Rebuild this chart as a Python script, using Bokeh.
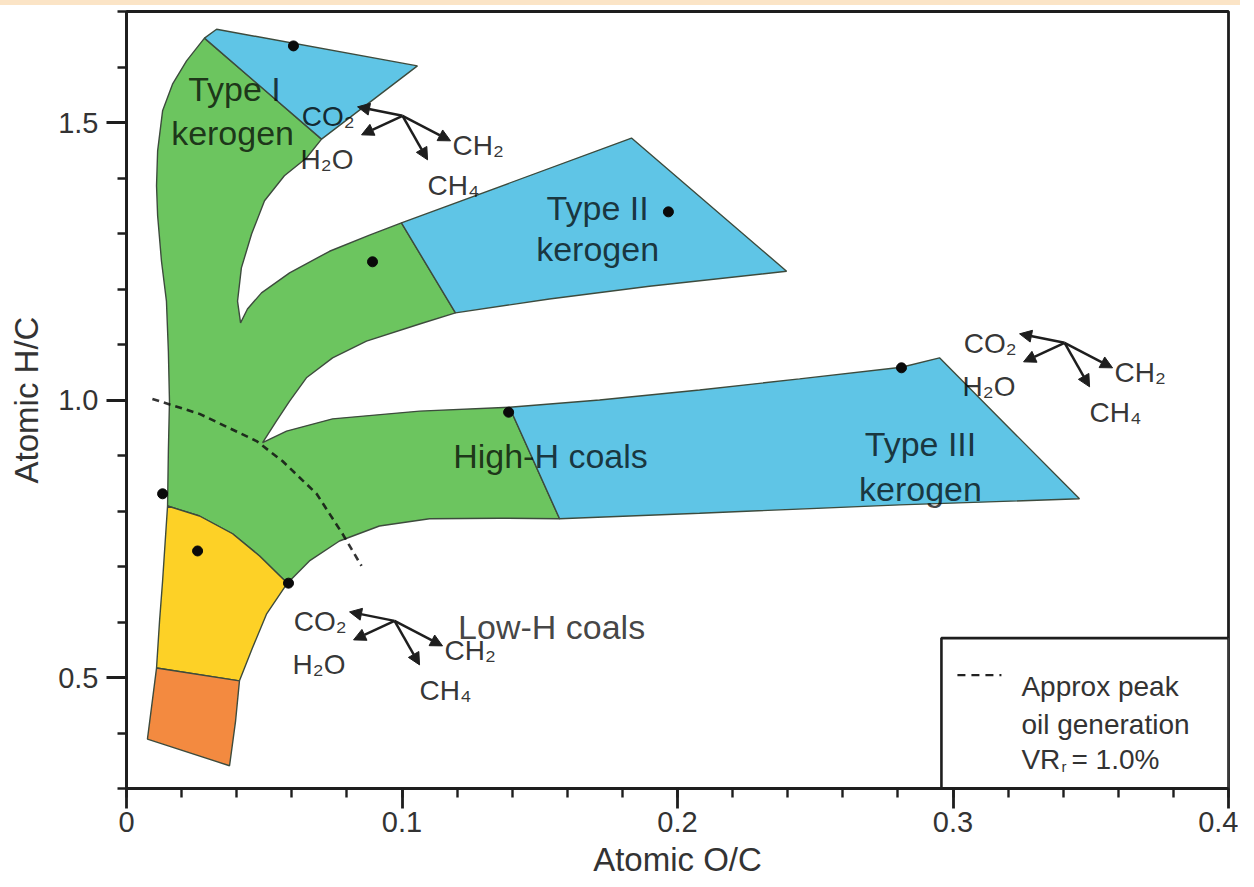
from bokeh.plotting import figure
from bokeh.layouts import column
from bokeh.models import (ColumnDataSource, FixedTicker, CustomJSTickFormatter,
                          Arrow, NormalHead, Range1d, Div)
from bokeh.core.properties import value
from bokeh.embed import file_html
from bokeh.resources import INLINE

# ---------------- data ----------------
GREEN_X = [0.0283, 0.0708, 0.0653, 0.0573, 0.0501, 0.0454, 0.0417, 0.0403, 0.0414,
           0.0439, 0.0490, 0.0592, 0.0737, 0.0882, 0.0998, 0.1194, 0.1064, 0.0871,
           0.0748, 0.0653, 0.0592, 0.0544, 0.0494, 0.0581, 0.0748, 0.1064, 0.1390,
           0.1572, 0.1354, 0.1100, 0.0918, 0.0773, 0.0664, 0.0584, 0.0483, 0.0385,
           0.0265, 0.0149, 0.0152, 0.0156, 0.0152, 0.0145, 0.0127, 0.0113, 0.0109,
           0.0113, 0.0131, 0.0167, 0.0218]
GREEN_Y = [1.652, 1.470, 1.436, 1.404, 1.359, 1.299, 1.238, 1.178, 1.139,
           1.164, 1.193, 1.229, 1.268, 1.297, 1.319, 1.157, 1.137, 1.106,
           1.076, 1.040, 0.998, 0.962, 0.923, 0.944, 0.966, 0.980, 0.987,
           0.786, 0.787, 0.786, 0.773, 0.746, 0.710, 0.670, 0.719, 0.759,
           0.791, 0.809, 0.908, 0.998, 1.088, 1.178, 1.250, 1.332, 1.386,
           1.449, 1.521, 1.569, 1.611]

TYPE1_X = [0.0283, 0.0327, 0.1056, 0.0708]
TYPE1_Y = [1.652, 1.668, 1.602, 1.470]

TYPE2_X = [0.0998, 0.1833, 0.2396, 0.1898, 0.1535, 0.1194]
TYPE2_Y = [1.319, 1.472, 1.232, 1.205, 1.182, 1.157]

TYPE3_X = [0.1390, 0.1717, 0.2080, 0.2443, 0.2813, 0.2951, 0.3459, 0.2806, 0.2080, 0.1572]
TYPE3_Y = [0.987, 1.000, 1.018, 1.038, 1.059, 1.076, 0.822, 0.811, 0.796, 0.786]

YELLOW_X = [0.0149, 0.0265, 0.0385, 0.0483, 0.0584, 0.0508, 0.0457, 0.0410, 0.0109, 0.0120, 0.0131]
YELLOW_Y = [0.809, 0.791, 0.759, 0.719, 0.670, 0.614, 0.553, 0.494, 0.517, 0.602, 0.674]

ORANGE_X = [0.0109, 0.0410, 0.0396, 0.0374, 0.0076]
ORANGE_Y = [0.517, 0.494, 0.422, 0.341, 0.389]

DOT_X = [0.0606, 0.0893, 0.1967, 0.1387, 0.2813, 0.0131, 0.0258, 0.0588]
DOT_Y = [1.638, 1.249, 1.339, 0.978, 1.058, 0.831, 0.728, 0.670]

PEAK_OIL_X = [0.0094, 0.0265, 0.0472, 0.0566, 0.0690, 0.0784, 0.0853]
PEAK_OIL_Y = [1.002, 0.975, 0.926, 0.890, 0.831, 0.759, 0.701]

REGION_LABELS = ["Type I", "kerogen", "Type II", "kerogen", "High-H coals",
                 "Type III", "kerogen", "Low-H coals"]
REGION_LABEL_X = [0.0392, 0.0385, 0.1710, 0.1710, 0.1539, 0.2882, 0.2882, 0.1543]
REGION_LABEL_Y = [1.560, 1.481, 1.346, 1.272, 0.899, 0.921, 0.840, 0.591]

# anchors of the three CO2/H2O/CH2/CH4 reaction diagrams
DIAGRAM_X = [0.1002, 0.0973, 0.3405]
DIAGRAM_Y = [1.512, 0.602, 1.103]
PRODUCTS = ["CO₂", "H₂O", "CH₂", "CH₄"]

X_TICKS = [0.0, 0.1, 0.2, 0.3, 0.4]
X_MINOR = [round(0.02 * i, 2) for i in range(21)]
Y_TICKS = [0.5, 1.0, 1.5]
Y_MINOR = [round(0.3 + 0.1 * i, 1) for i in range(15)]

LEGEND_LINES = ["Approx peak", "oil generation"]

# ---------------- layout / style ----------------
X0, X1, Y0, Y1 = 0.0, 0.4, 0.3, 1.7
FW, FH = 1102, 777
SX = FW / (X1 - X0)   # px per data unit
SY = FH / (Y1 - Y0)
FONT = "Liberation Sans"
INK = "#1e1e1e"

GREEN = "#6cc55f"
BLUE = "#5fc5e6"
YELLOW = "#fdd126"
ORANGE = "#f38a40"
EDGE = "#3d4b3d"

p = figure(frame_width=FW, frame_height=FH,
           x_range=Range1d(X0, X1), y_range=Range1d(Y0, Y1),
           output_backend="svg", toolbar_location=None,
           min_border_left=126, min_border_right=10,
           min_border_top=6, min_border_bottom=90)
p.background_fill_color = "white"
p.border_fill_color = "white"
p.grid.grid_line_color = None
p.outline_line_color = INK
p.outline_line_width = 2.8
p.outline_line_alpha = 1.0

# polygons
p.patches(xs=[GREEN_X, TYPE1_X, TYPE2_X, TYPE3_X, YELLOW_X, ORANGE_X],
          ys=[GREEN_Y, TYPE1_Y, TYPE2_Y, TYPE3_Y, YELLOW_Y, ORANGE_Y],
          fill_color=[GREEN, BLUE, BLUE, BLUE, YELLOW, ORANGE],
          line_color=EDGE, line_width=1.4)

# peak oil line
p.line(PEAK_OIL_X, PEAK_OIL_Y, line_color="#111111", line_alpha=0.85,
       line_width=2.6, line_dash="7 5")

# dots
p.scatter(DOT_X, DOT_Y, size=10, marker="circle", fill_color="#0a0a0a", line_color="#0a0a0a")

# region labels
p.text(x=REGION_LABEL_X, y=REGION_LABEL_Y, text=REGION_LABELS,
       text_font=value(FONT), text_font_size="34px", text_color="#000000",
       text_alpha=0.74, text_align="center", text_baseline="alphabetic")

# reaction diagrams
HEAD_OFF = [(-45, -9), (-41, 19), (48, 25), (25, 44)]          # px
LABEL_OFF = [(-48, 1), (-102, 44), (50, 30), (25, 70)]         # px
LABEL_ALIGN = ["right", "left", "left", "left"]

ax0, ay0, ax1, ay1 = [], [], [], []
lab = {"left": dict(x=[], y=[], t=[]), "right": dict(x=[], y=[], t=[])}
for dx0, dy0 in zip(DIAGRAM_X, DIAGRAM_Y):
    for (hx, hy), (lx, ly), al, prod in zip(HEAD_OFF, LABEL_OFF, LABEL_ALIGN, PRODUCTS):
        ax0.append(dx0); ay0.append(dy0)
        ax1.append(dx0 + hx / SX); ay1.append(dy0 - hy / SY)
        lab[al]["x"].append(dx0 + lx / SX)
        lab[al]["y"].append(dy0 - ly / SY)
        lab[al]["t"].append(prod)

arrow_src = ColumnDataSource(dict(x0=ax0, y0=ay0, x1=ax1, y1=ay1))
p.add_layout(Arrow(end=NormalHead(size=12, fill_color=INK, line_color=INK, line_width=1),
                   x_start="x0", y_start="y0", x_end="x1", y_end="y1",
                   source=arrow_src, line_color=INK, line_width=2.5))
for al in ("left", "right"):
    p.text(x=lab[al]["x"], y=lab[al]["y"], text=lab[al]["t"],
           text_font=value(FONT), text_font_size="28px", text_color="#000000",
           text_alpha=0.8, text_align=al, text_baseline="alphabetic")

# legend box (drawn by hand)
LX0, LY1 = 0.2958, 0.571
p.quad(left=[LX0], right=[X1], bottom=[Y0], top=[LY1], fill_color="white",
       line_color=INK, line_width=2.6)
p.line([LX0 + 16 / SX, LX0 + 60 / SX], [LY1 - 37 / SY] * 2, line_color="#222222",
       line_width=2.4, line_dash="8 6")
tx = LX0 + 80 / SX
p.text(x=[tx, tx], y=[LY1 - 48 / SY, LY1 - 86 / SY], text=LEGEND_LINES,
       text_font=value(FONT), text_font_size="28px", text_color="#333333",
       text_align="left", text_baseline="alphabetic")
p.text(x=[tx], y=[LY1 - 121 / SY], text=["VR"],
       text_font=value(FONT), text_font_size="28px", text_color="#333333",
       text_align="left", text_baseline="alphabetic")
p.text(x=[tx + 40 / SX], y=[LY1 - 128 / SY], text=["r"],
       text_font=value(FONT), text_font_size="15px", text_color="#333333",
       text_align="left", text_baseline="alphabetic")
p.text(x=[tx + 50 / SX], y=[LY1 - 121 / SY], text=["= 1.0%"],
       text_font=value(FONT), text_font_size="28px", text_color="#333333",
       text_align="left", text_baseline="alphabetic")

# axes
fmt = CustomJSTickFormatter(code="return tick === 0 ? '0' : tick.toFixed(1);")
p.xaxis.ticker = FixedTicker(ticks=X_TICKS, minor_ticks=X_MINOR)
p.yaxis.ticker = FixedTicker(ticks=Y_TICKS, minor_ticks=Y_MINOR)
for ax in (p.xaxis[0], p.yaxis[0]):
    ax.formatter = fmt
    ax.axis_line_color = INK
    ax.axis_line_width = 2.8
    ax.major_tick_line_color = INK
    ax.minor_tick_line_color = INK
    ax.major_tick_line_width = 2.8
    ax.minor_tick_line_width = 2.4
    ax.major_tick_out = 20
    ax.major_tick_in = 0
    ax.minor_tick_out = 9
    ax.minor_tick_in = 0
    ax.major_label_text_font = FONT
    ax.major_label_text_font_size = "29px"
    ax.major_label_text_color = "#333333"
    ax.axis_label_text_font = FONT
    ax.axis_label_text_font_size = "33px"
    ax.axis_label_text_font_style = "normal"
    ax.axis_label_text_color = "#333333"
p.xaxis.axis_label = "Atomic O/C"
p.yaxis.axis_label = "Atomic H/C"
p.xaxis.major_label_standoff = 3
p.yaxis.major_label_standoff = 8
p.xaxis.axis_label_standoff = 6
p.yaxis.axis_label_standoff = 10

strip = Div(text="", width=1240, height=5, margin=(0, 0, 0, 0),
            styles={"background-color": "#fbe4c6"})
layout = column(strip, p, spacing=0)

open("out.html", "w").write(file_html(layout, INLINE))
